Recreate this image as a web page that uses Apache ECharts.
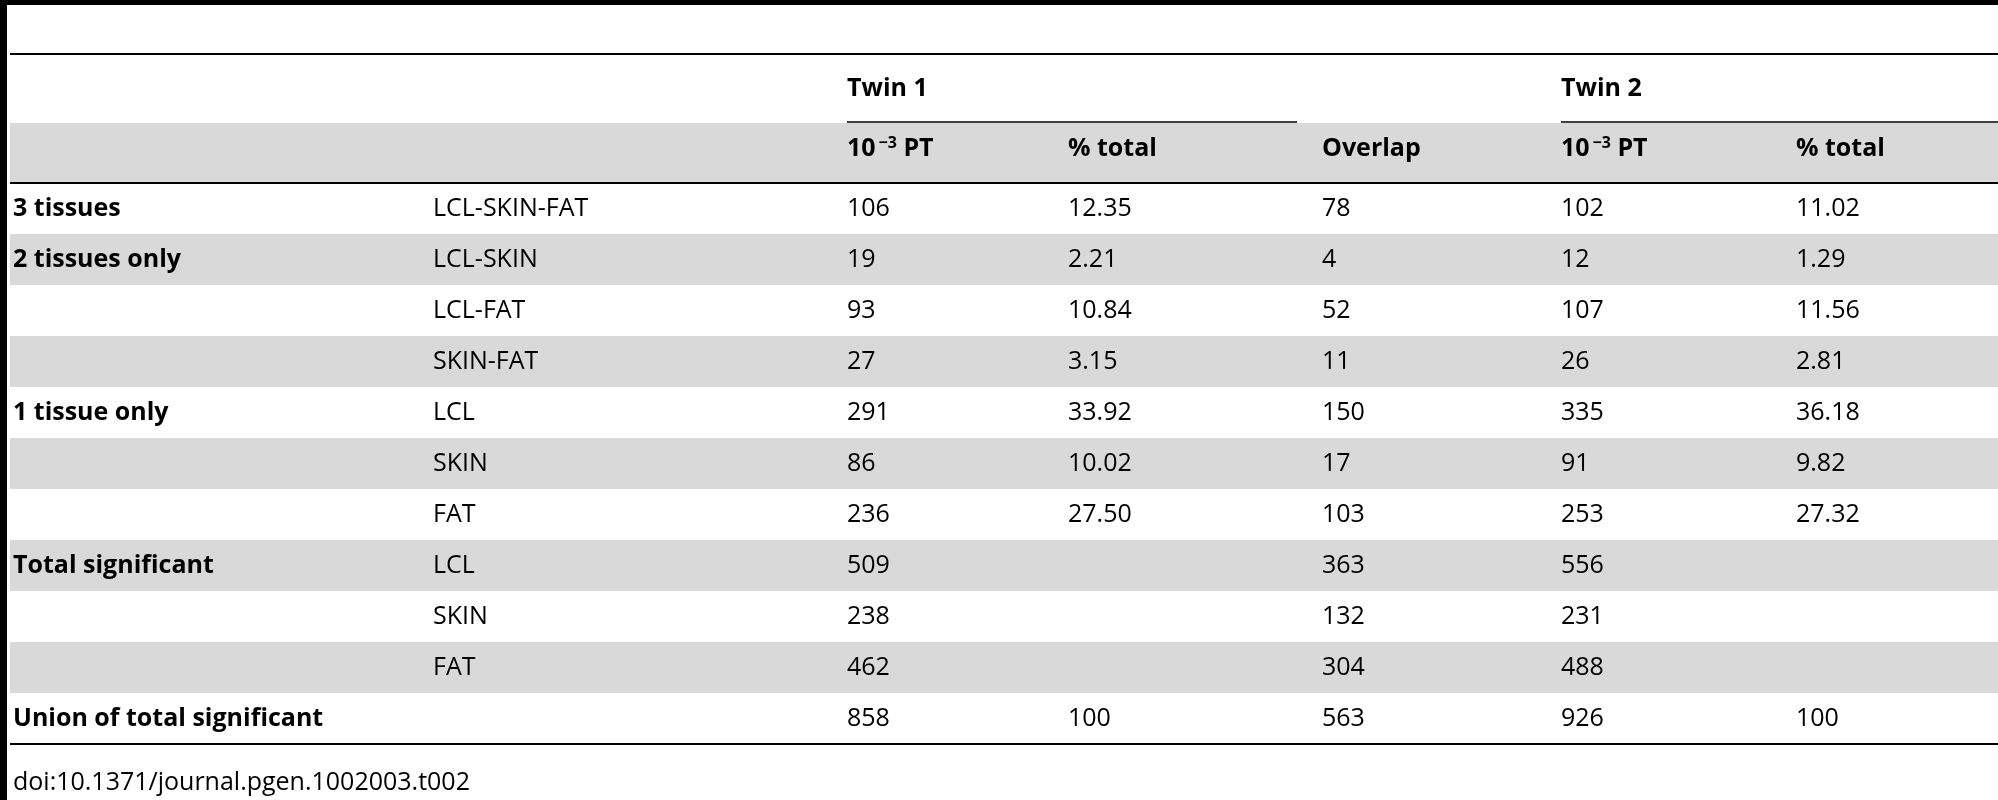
<!DOCTYPE html>
<html><head><meta charset="utf-8">
<script src="https://cdn.jsdelivr.net/npm/echarts@6/dist/echarts.min.js"></script>
<style>html,body{margin:0;padding:0;background:#fff}#main{width:1998px;height:800px}</style>
</head><body><div id="main"></div>
<script>
var groups = ['3 tissues', '2 tissues only', '', '', '1 tissue only', '', '', 'Total significant', '', '', 'Union of total significant'];
var tissues = ['LCL-SKIN-FAT', 'LCL-SKIN', 'LCL-FAT', 'SKIN-FAT', 'LCL', 'SKIN', 'FAT', 'LCL', 'SKIN', 'FAT', ''];
var twin1PT = ['106', '19', '93', '27', '291', '86', '236', '509', '238', '462', '858'];
var twin1Pct = ['12.35', '2.21', '10.84', '3.15', '33.92', '10.02', '27.50', '', '', '', '100'];
var overlap = ['78', '4', '52', '11', '150', '17', '103', '363', '132', '304', '563'];
var twin2PT = ['102', '12', '107', '26', '335', '91', '253', '556', '231', '488', '926'];
var twin2Pct = ['11.02', '1.29', '11.56', '2.81', '36.18', '9.82', '27.32', '', '', '', '100'];
var footnote = 'doi:10.1371/journal.pgen.1002003.t002';

var colX = [13, 433, 847, 1068, 1322, 1561, 1796];
var rowTop = 183, rowH = 51;
var font = '"Open Sans", sans-serif';
var els = [];

function txt(x, y, s, bold) {
  els.push({ type: 'text', x: x, y: y, style: { text: s, font: (bold ? 'bold ' : '') + '25px ' + font, fill: '#000', verticalAlign: 'middle' } });
}
function line(x1, y1, x2, y2, w) {
  els.push({ type: 'line', shape: { x1: x1, y1: y1, x2: x2, y2: y2 }, style: { stroke: '#000', lineWidth: w } });
}
function rect(x, y, w, h) {
  els.push({ type: 'rect', shape: { x: x, y: y, width: w, height: h }, style: { fill: '#d9d9d9' } });
}

// header shading and rules
rect(10, 123, 1988, 59);
for (var i = 0; i < groups.length; i++) if (i % 2 === 1) rect(10, rowTop + i * rowH, 1988, rowH);
line(0, 2.5, 1998, 2.5, 5);
line(3.5, 0, 3.5, 800, 7);
line(10, 54, 1998, 54, 2);
line(10, 183, 1998, 183, 2);
line(847, 122, 1297, 122, 1.5);
line(1561, 122, 1998, 122, 1.5);
line(10, rowTop + groups.length * rowH, 1998, rowTop + groups.length * rowH, 2);

// header text
txt(colX[2], 89, 'Twin 1', true);
txt(colX[5], 89, 'Twin 2', true);
[2, 5].forEach(function (c) {
  els.push({ type: 'text', x: colX[c], y: 149, style: {
    text: '{n|10}{s|−3}{n| PT}', verticalAlign: 'middle',
    rich: { n: { font: 'bold 25px ' + font, fill: '#000' }, s: { font: 'bold 16px ' + font, fill: '#000', verticalAlign: 'top', padding: [0, 0, 12, 3] } }
  } });
});
txt(colX[3], 149, '% total', true);
txt(colX[4], 149, 'Overlap', true);
txt(colX[6], 149, '% total', true);

for (var r = 0; r < groups.length; r++) {
  var y = rowTop + r * rowH + rowH / 2;
  txt(colX[0], y, groups[r], true);
  txt(colX[1], y, tissues[r]);
  txt(colX[2], y, twin1PT[r]);
  txt(colX[3], y, twin1Pct[r]);
  txt(colX[4], y, overlap[r]);
  txt(colX[5], y, twin2PT[r]);
  txt(colX[6], y, twin2Pct[r]);
}
txt(colX[0], 783, footnote);

var chart = echarts.init(document.getElementById('main'));
chart.setOption({ animation: false, graphic: { elements: els } });
</script></body></html>
